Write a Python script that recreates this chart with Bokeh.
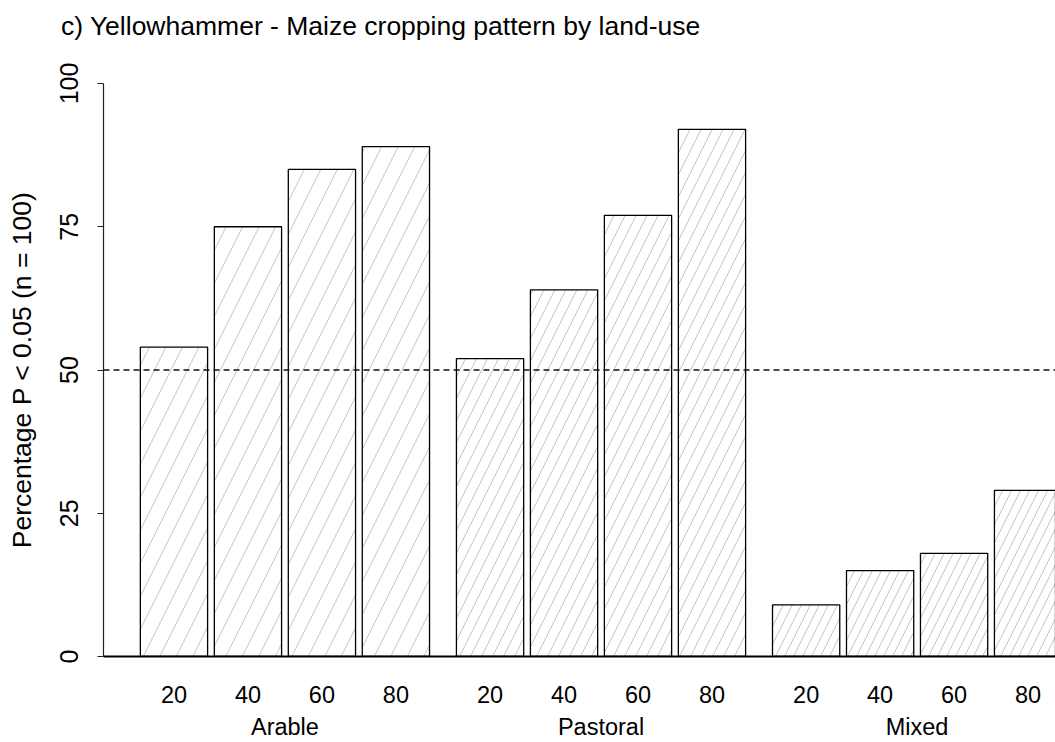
from bokeh.plotting import figure
from bokeh.models import Range1d, FixedTicker, Span, LinearAxis, ColumnDataSource
from bokeh.embed import file_html
from bokeh.resources import INLINE

# ---- data ----
groups = ["Arable", "Pastoral", "Mixed"]
levels = ["20", "40", "60", "80"]
arable = [54, 75, 85, 89]
pastoral = [52, 64, 77, 92]
mixed = [9, 15, 18, 29]
threshold = 50
y_ticks = [0, 25, 50, 75, 100]
title_text = "c) Yellowhammer -  Maize cropping pattern by land-use"
y_label = "Percentage P < 0.05 (n = 100)"

# ---- layout / style ----
BAR_STEP = 1.1      # centre-to-centre within a group (bar width 1)
GROUP_STEP = 4.7    # first bar of one group to first bar of next
TITLE_X = 3.13      # horizontal centre of the title text (x units)
group_hatch = [33, 22, 18]
FONT = "Liberation Sans"

xs, tops, labels, hscale = [], [], [], []
for g, vals in enumerate([arable, pastoral, mixed]):
    for j, v in enumerate(vals):
        xs.append(round(g * GROUP_STEP + j * BAR_STEP, 3))
        tops.append(v)
        labels.append(levels[j])
        hscale.append(group_hatch[g])
src = ColumnDataSource(dict(x=xs, top=tops, hs=hscale))

gx = [round(sum(xs[4 * g:4 * g + 4]) / 4, 3) for g in range(len(groups))]

p = figure(width=1055, height=742, output_backend="svg", toolbar_location=None,
           x_range=Range1d(-1.048, 13.108), y_range=Range1d(0, 100),
           min_border_left=103, min_border_right=0, min_border_top=83,
           min_border_bottom=85, outline_line_color=None)
p.grid.visible = False
p.background_fill_color = "white"
p.border_fill_color = "white"

p.vbar(x="x", top="top", bottom=0, width=1.0, source=src,
       fill_color="white", line_color="black", line_width=1.3,
       hatch_pattern="/", hatch_color="#c4c4c4", hatch_weight=1, hatch_scale="hs")

p.add_layout(Span(location=threshold, dimension="width", line_color="#111111",
                  line_width=1.3, line_dash="6 4"))

# x axis (level labels)
xa = p.xaxis[0]
xa.ticker = FixedTicker(ticks=xs)
xa.major_label_overrides = {x: l for x, l in zip(xs, labels)}
xa.major_tick_line_color = None
xa.minor_tick_line_color = None
xa.axis_line_color = "black"
xa.axis_line_width = 2
xa.major_label_text_font = FONT
xa.major_label_text_font_size = "23.5px"
xa.major_label_text_color = "black"
xa.major_label_standoff = 23

# second x axis (group labels)
ga = LinearAxis(ticker=FixedTicker(ticks=gx),
                major_label_overrides={x: n for x, n in zip(gx, groups)})
ga.axis_line_color = None
ga.major_tick_line_color = None
ga.minor_tick_line_color = None
ga.major_label_text_font = FONT
ga.major_label_text_font_size = "23.5px"
ga.major_label_text_color = "black"
ga.major_label_standoff = 2
p.add_layout(ga, "below")

# title, written as the single label of a bare axis above the plot
ta = LinearAxis(ticker=FixedTicker(ticks=[TITLE_X]),
                major_label_overrides={TITLE_X: title_text})
ta.axis_line_color = None
ta.major_tick_line_color = None
ta.minor_tick_line_color = None
ta.major_label_text_font = FONT
ta.major_label_text_font_size = "26.5px"
ta.major_label_text_color = "black"
ta.major_label_standoff = 37
p.add_layout(ta, "above")

# y axis
ya = p.yaxis[0]
ya.ticker = FixedTicker(ticks=y_ticks)
ya.minor_tick_line_color = None
ya.major_tick_in = 0
ya.major_tick_out = 6
ya.major_tick_line_color = "#222222"
ya.axis_line_color = "#222222"
ya.axis_line_width = 1.2
ya.major_label_orientation = "vertical"
ya.major_label_text_font = FONT
ya.major_label_text_font_size = "25px"
ya.major_label_text_color = "black"
ya.major_label_standoff = 20
ya.axis_label = y_label
ya.axis_label_text_font = FONT
ya.axis_label_text_font_size = "26.5px"
ya.axis_label_text_font_style = "normal"
ya.axis_label_text_color = "black"
ya.axis_label_standoff = 20

open("out.html", "w").write(file_html(p, INLINE))
